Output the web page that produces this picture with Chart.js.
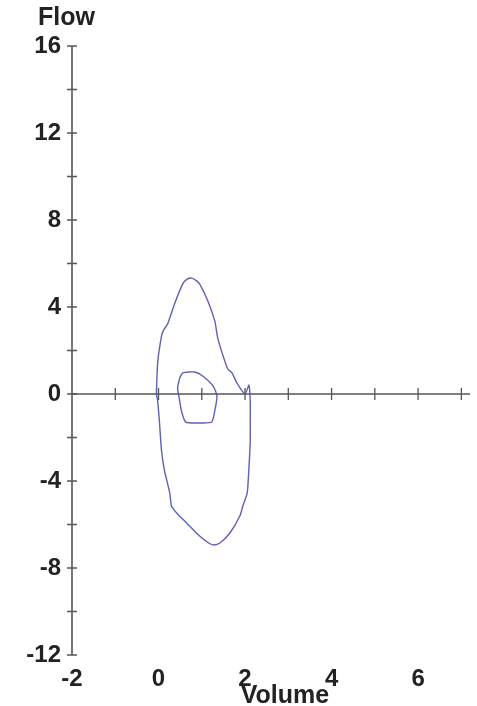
<!DOCTYPE html>
<html>
<head>
<meta charset="utf-8">
<script src="https://cdn.jsdelivr.net/npm/chart.js@4/dist/chart.umd.min.js"></script>
<style>
  html, body { margin: 0; padding: 0; background: #ffffff; }
  canvas { display: block; }
</style>
</head>
<body>
<canvas id="loop" width="477" height="706"></canvas>
<script>
// Tick labels shown on each axis
const volumeLabels = [-2, 0, 2, 4, 6];
const flowLabels = [16, 12, 8, 4, 0, -4, -8, -12];

// Outer flow-volume loop (L, L/s)
const outerVolume = [-0.05, -0.02, 0.07, 0.12, 0.21, 0.37, 0.56, 0.67, 0.77, 0.88, 0.95, 1.14, 1.30, 1.37, 1.47, 1.60, 1.70, 1.81, 2.00, 2.09, 2.12, 2.12, 2.12, 2.09, 2.05, 1.95, 1.88, 1.65, 1.42, 1.28, 1.16, 0.95, 0.65, 0.42, 0.30, 0.26, 0.14, 0.07, 0.02, -0.02, -0.05];
const outerFlow   = [0.00, 1.43, 2.67, 2.95, 3.22, 4.14, 5.06, 5.29, 5.33, 5.20, 5.06, 4.28, 3.36, 2.57, 1.89, 1.15, 0.97, 0.51, 0.00, 0.41, -0.32, -1.24, -2.16, -3.40, -4.55, -5.15, -5.61, -6.39, -6.85, -6.94, -6.85, -6.53, -5.93, -5.47, -5.15, -4.55, -3.54, -2.62, -1.24, -0.32, 0.00];

// Inner tidal loop
const innerVolume = [0.49, 0.56, 0.84, 1.02, 1.26, 1.35, 1.30, 1.23, 0.95, 0.63, 0.53, 0.47, 0.44, 0.49];
const innerFlow   = [0.74, 0.97, 1.01, 0.83, 0.37, -0.09, -0.78, -1.29, -1.33, -1.29, -0.78, -0.09, 0.28, 0.74];

const xTitle = 'Volume';
const yTitle = 'Flow';

const toPoints = (xs, ys) => xs.map((v, i) => ({ x: v, y: ys[i] }));

const labelFont = { family: '"Liberation Sans", Arial, sans-serif', size: 24, weight: 'bold' };
const inkColor = '#222222';
const axisColor = '#555555';
const traceColor = 'rgba(78, 80, 172, 0.9)';

// Axes drawn through the origin row with ticks crossing the lines
const crossAxes = {
  id: 'crossAxes',
  beforeDatasetsDraw(chart) {
    const { ctx, scales: { x, y } } = chart;
    const left = x.getPixelForValue(x.min);
    const right = x.getPixelForValue(x.max);
    const zeroY = y.getPixelForValue(0);
    ctx.save();
    ctx.strokeStyle = axisColor;
    ctx.lineWidth = 1.6;
    ctx.beginPath();
    ctx.moveTo(left, y.getPixelForValue(y.max));
    ctx.lineTo(left, y.getPixelForValue(y.min));
    ctx.moveTo(left, zeroY);
    ctx.lineTo(right, zeroY);
    ctx.stroke();

    ctx.lineWidth = 1.3;
    ctx.beginPath();
    y.ticks.forEach(t => {
      const py = y.getPixelForValue(t.value);
      ctx.moveTo(left - 5, py);
      ctx.lineTo(left + 5, py);
    });
    x.ticks.forEach(t => {
      if (!Number.isInteger(t.value) || t.value === x.min) return;
      const px = x.getPixelForValue(t.value);
      ctx.moveTo(px, zeroY - 6);
      ctx.lineTo(px, zeroY + 6);
    });
    ctx.stroke();

    ctx.fillStyle = inkColor;
    ctx.font = 'bold 25px "Liberation Sans", Arial, sans-serif';
    ctx.textBaseline = 'alphabetic';
    ctx.textAlign = 'left';
    ctx.fillText(yTitle, chart.chartArea.left - 34, chart.chartArea.top - 21);
    ctx.fillText(xTitle, x.getPixelForValue(1.9), chart.height - 3);
    ctx.restore();
  }
};

new Chart(document.getElementById('loop'), {
  type: 'scatter',
  data: {
    datasets: [
      {
        data: toPoints(outerVolume, outerFlow),
        showLine: true,
        borderColor: traceColor,
        borderWidth: 1.4,
        pointRadius: 0,
        tension: 0.2,
        fill: false
      },
      {
        data: toPoints(innerVolume, innerFlow),
        showLine: true,
        borderColor: traceColor,
        borderWidth: 1.4,
        pointRadius: 0,
        tension: 0.2,
        fill: false
      }
    ]
  },
  options: {
    responsive: false,
    animation: false,
    layout: { padding: { top: 46, right: 7, left: 0, bottom: 0 } },
    plugins: {
      legend: { display: false },
      tooltip: { enabled: false }
    },
    scales: {
      x: {
        type: 'linear',
        min: -2,
        max: 7.2,
        grid: { display: false, drawTicks: false },
        border: { display: false },
        ticks: {
          stepSize: 1,
          includeBounds: false,
          autoSkip: false,
          maxRotation: 0,
          padding: 10,
          color: inkColor,
          font: labelFont,
          callback: v => volumeLabels.includes(v) ? String(v) : ''
        },
        afterFit: s => { s.height = 51; }
      },
      y: {
        type: 'linear',
        min: -12,
        max: 16,
        grid: { display: false, drawTicks: false },
        border: { display: false },
        ticks: {
          stepSize: 2,
          autoSkip: false,
          padding: 11,
          color: inkColor,
          font: labelFont,
          callback: v => flowLabels.includes(v) ? String(v) : ''
        },
        afterFit: s => { s.width = 72; }
      }
    }
  },
  plugins: [crossAxes]
});
</script>
</body>
</html>
